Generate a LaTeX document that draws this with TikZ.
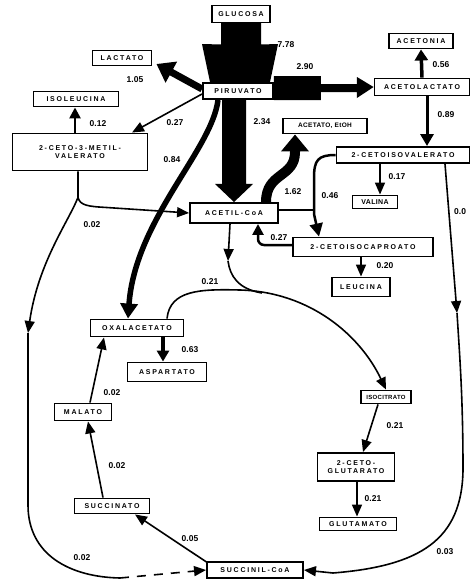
\documentclass[tikz,border=0pt]{standalone}
\usepackage{fontspec}
\setmainfont{Liberation Sans}
\newfontfamily\nodefam[LetterSpace=25]{Liberation Sans}
\newfontfamily\nodefamtight[LetterSpace=5]{Liberation Sans}
\usetikzlibrary{arrows.meta,calc,backgrounds}
\tikzset{
  box/.style={draw, line width=1.9pt, font=\nodefam\bfseries\fontsize{7}{8}\selectfont, inner sep=1pt, align=center, fill=white},
  lbl/.style={font=\bfseries\fontsize{8.5}{9}\selectfont, inner sep=0pt},
  arr/.style={line width=1.6pt, -{Triangle[length=12pt,width=10pt]}},
  ln/.style={line width=1.6pt},
}
\begin{document}
\begin{tikzpicture}[x=1pt,y=-1pt]
\useasboundingbox (0,0) rectangle (471,586);
% nodes
\node[box, minimum width=58, minimum height=17] (glu) at (241,14) {GLUCOSA};
\node[box, minimum width=70, minimum height=16] (pir) at (238,91) {PIRUVATO};
\node[box, minimum width=95, minimum height=17] (acl) at (422,87) {ACETOLACTATO};
\node[box, minimum width=64, minimum height=15] (acn) at (421,41) {ACETONIA};
\node[box, minimum width=133, minimum height=16] (civ) at (403,155) {2-CETOISOVALERATO};
\node[box, minimum width=45, minimum height=13, font=\nodefamtight\bfseries\fontsize{7}{8}\selectfont] (val) at (375,202) {VALINA};
\node[box, minimum width=88, minimum height=20] (acoa) at (234,213) {ACETIL-CoA};
\node[box, minimum width=84, minimum height=15, font=\nodefamtight\bfseries\fontsize{6.5}{7.5}\selectfont] (acet) at (325,126) {ACETATO, EtOH};
\node[box, minimum width=140, minimum height=19] (cic) at (363,247) {2-CETOISOCAPROATO};
\node[box, minimum width=58, minimum height=19] (leu) at (361,287) {LEUCINA};
\node[box, minimum width=59, minimum height=15] (lac) at (122,58) {LACTATO};
\node[box, minimum width=85, minimum height=15] (ile) at (76,99) {ISOLEUCINA};
\node[box, minimum width=135, minimum height=37] (cmv) at (80,152) {2-CETO-3-METIL-\\VALERATO};
\node[box, minimum width=93, minimum height=17] (oxa) at (137,328) {OXALACETATO};
\node[box, minimum width=79, minimum height=19] (asp) at (167,372) {ASPARTATO};
\node[box, minimum width=50, minimum height=13, font=\nodefamtight\bfseries\fontsize{6}{7}\selectfont] (iso) at (386,397) {ISOCITRATO};
\node[box, minimum width=77, minimum height=28] (cgl) at (356,467) {2-CETO-\\GLUTARATO};
\node[box, minimum width=77, minimum height=13] (glm) at (358,524) {GLUTAMATO};
\node[box, minimum width=96, minimum height=16] (scoa) at (255,570) {SUCCINIL-CoA};
\node[box, minimum width=75, minimum height=15] (suc) at (112,506) {SUCCINATO};
\node[box, minimum width=57, minimum height=17] (mal) at (83,412) {MALATO};

\begin{scope}[on background layer]
% glucose -> piruvato block arrow
\fill ($(glu.south)+(-20,-2)$) -- ($(glu.south)+(20,-2)$) -- ($(glu.south)+(20,21)$)
  -- ($(pir.north)+(40,-38)$) -- ($(pir.north)+(32,0)$) -- ($(pir.north)+(-28,0)$)
  -- ($(pir.north)+(-36,-38)$) -- ($(glu.south)+(-20,21)$) -- cycle;
% piruvato -> acetolactato block arrow
\fill ($(pir.east)+(0,-15)$) -- ($(pir.east)+(47,-15)$) -- ($(pir.east)+(47,-7)$)
  -- ($(pir.east)+(83,-7)$) -- ($(pir.east)+(83,-14)$) -- (acl.west)
  -- ($(pir.east)+(83,7)$) -- ($(pir.east)+(83,1)$) -- ($(pir.east)+(47,1)$)
  -- ($(pir.east)+(47,9)$) -- ($(pir.east)+(0,9)$) -- cycle;
% piruvato -> acetil-CoA block arrow
\fill ($(pir.south)+(-16,0)$) -- ($(pir.south)+(8,0)$) -- ($(pir.south)+(8,84)$)
  -- ($(pir.south)+(15,84)$) -- (acoa.north) -- ($(pir.south)+(-23,84)$)
  -- ($(pir.south)+(-16,84)$) -- cycle;
% piruvato -> lactato
\draw[line width=7pt, -{Triangle[length=17pt,width=23pt]}] ($(pir.west)+(0,-2)$) -- ($(lac.east)+(4,6)$);
% piruvato -> 2-ceto-3-metil-valerato
\draw[arr] ($(pir.west)+(0,3)$) -- ($(cmv.north)+(52,0)$);
% cmv -> isoleucina
\draw[line width=2.5pt, -{Triangle[length=11pt,width=11pt]}] ($(cmv.north)+(-5,0)$) -- ($(ile.south)+(-1,0)$);
% acetolactato -> acetonia
\draw[line width=3.5pt, -{Triangle[length=11pt,width=13pt]}] (acl.north) -- (acn.south);
% acetolactato -> 2-cetoisovalerato
\draw[line width=3pt, -{Triangle[length=12pt,width=13pt]}] ($(acl.south)+(5,0)$) -- ($(civ.north)+(24,0)$);
% 2-cetoisovalerato -> valina
\coordinate (vt) at ($(val.north)+(5,0)$);
\draw[arr] (vt |- civ.south) -- (vt);
% acetil-CoA -> acetato
\draw[line width=10pt, -{Triangle[length=17pt,width=27pt]}] ($(acoa.north)+(32,0)$) .. controls (266,172) and (295,178) .. (295,152) -- ($(acet.south)+(-30,0)$);
% 2-cetoisovalerato + acetil-CoA -> 2-cetoisocaproato
\draw[line width=2.5pt, -{Triangle[length=13pt,width=13pt]}] (civ.west) .. controls (318,155) and (314,160) .. (314,178) -- (314,214) -- ($(cic.north)+(-44,0)$);
\draw[line width=2.5pt] ($(acoa.east)+(0,-3)$) -- (314,210);
% 2-cetoisocaproato -> acetil-CoA
\draw[line width=2.5pt, rounded corners=6pt, -{Triangle[length=11pt,width=11pt]}] ($(cic.west)+(0,-2)$) -| ($(acoa.south)+(24,0)$);
% 2-cetoisocaproato -> leucina
\draw[arr] (leu.north |- cic.south) -- (leu.north);
% cmv -> acetil-CoA and branch to succinil-CoA
\coordinate (br) at ($(cmv.south)+(-2,26)$);
\draw[arr] ($(cmv.south)+(-2,0)$) -- (br) .. controls ($(br)+(2,8)$) and ($(br)+(10,9)$) .. ($(br)+(28,10)$) -- (acoa.west);
\coordinate (lm) at (28,333);
\draw[arr] (br) .. controls ($(br)+(-10,25)$) and ($(lm)+(10,-70)$) .. (lm);
\coordinate (lb) at (120,578);
\draw[ln] (lm) -- (28,505) .. controls (28,555) and (70,577) .. (lb);
\draw[arr, dash pattern=on 9pt off 8pt] (lb) -- (scoa.west);
% 2-cetoisovalerato -> succinil-CoA (right)
\coordinate (rm) at (457,313);
\draw[arr] ($(civ.south)+(42,0)$) -- (rm);
\coordinate (rb) at (333,573);
\draw[ln] (rm) .. controls (460,360) and (463,400) .. (463,470) .. controls (462,540) and (420,566) .. (rb);
\draw[arr] (rb) -- (scoa.east);
% piruvato -> oxalacetato
\draw[line width=5.5pt, -{Triangle[length=15pt,width=17pt]}] ($(pir.south)+(-20,0)$) .. controls (212,150) and (135,220) .. ($(oxa.north)+(-9,0)$);
% oxalacetato -> aspartato
\draw[line width=3.5pt, -{Triangle[length=11pt,width=12pt]}] ($(oxa.south)+(26,0)$) -- ($(asp.north)+(-4,0)$);
% acetil-CoA + oxalacetato -> isocitrato
\coordinate (am) at ($(acoa.south)+(-6,37)$);
\draw[arr] ($(acoa.south)+(-4,0)$) -- (am);
\draw[ln] (am) .. controls ($(am)+(2,15)$) and ($(am)+(10,28)$) .. (262,293);
\draw[arr] ($(oxa.north)+(30,0)$) .. controls (170,290) and (200,289) .. (240,290) .. controls (310,292) and (360,335) .. (iso.north);
% isocitrato -> 2-cetoglutarato
\draw[arr] ($(iso.south)+(-8,0)$) -- ($(cgl.north)+(7,0)$);
% 2-cetoglutarato -> glutamato
\draw[arr] ($(cgl.south)+(1,0)$) -- ($(glm.north)+(-1,0)$);
% succinil-CoA -> succinato
\draw[arr] ($(scoa.north west)+(2,2)$) -- ($(suc.south)+(23,0)$);
% succinato -> malato
\draw[arr] ($(suc.north)+(-9,0)$) -- ($(mal.south)+(5,0)$);
% malato -> oxalacetato
\draw[arr] ($(mal.north)+(7,0)$) -- ($(oxa.south)+(-33,0)$);
\end{scope}

% labels
\node[lbl] (l1) at (286,45) {7.78};
\node[lbl] (l2) at (305,67) {2.90};
\node[lbl] (l3) at (441,65) {0.56};
\node[lbl] (l4) at (446,115) {0.89};
\node[lbl] (l5) at (262,122) {2.34};
\node[lbl] (l6) at (135,80) {1.05};
\node[lbl] (l7) at (98,124) {0.12};
\node[lbl] (l8) at (175,123) {0.27};
\node[lbl] (l9) at (172,160) {0.84};
\node[lbl] (l10) at (293,192) {1.62};
\node[lbl] (l11) at (330,196) {0.46};
\node[lbl] (l12) at (397,177) {0.17};
\node[lbl, anchor=west] (l13) at (454,212) {0.0};
\node[lbl] (l14) at (92,225) {0.02};
\node[lbl] (l15) at (279,238) {0.27};
\node[lbl] (l16) at (385,266) {0.20};
\node[lbl] (l17) at (210,282) {0.21};
\node[lbl] (l18) at (190,350) {0.63};
\node[lbl] (l19) at (112,393) {0.02};
\node[lbl] (l20) at (117,466) {0.02};
\node[lbl] (l21) at (395,426) {0.21};
\node[lbl] (l22) at (373,499) {0.21};
\node[lbl] (l23) at (190,539) {0.05};
\node[lbl] (l24) at (82,558) {0.02};
\node[lbl] (l25) at (445,552) {0.03};
\end{tikzpicture}
\end{document}
